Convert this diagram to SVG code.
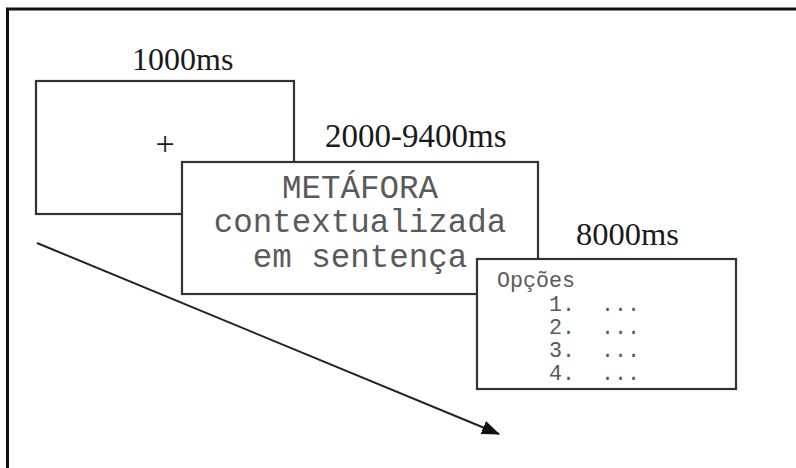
<svg xmlns="http://www.w3.org/2000/svg" width="796" height="468" viewBox="0 0 796 468">
<style>
.box{fill:#fff;stroke:#333;stroke-width:2.2}
.hd{font-family:"Liberation Serif","Times New Roman",serif;fill:#1a1a1a}
.mono{font-family:"Liberation Mono","Courier New",monospace;fill:#5a5a5a}
.conn{stroke:#222;stroke-width:2;fill:none}
</style>
<defs>
<marker id="ah" markerWidth="18" markerHeight="14" refX="17" refY="7" orient="auto" markerUnits="userSpaceOnUse">
<path d="M0,0 L18,7 L0,14 Z" fill="#111"/>
</marker>
</defs>
<rect width="796" height="468" fill="#fff"/>
<path d="M7.5,468 V9 H796" fill="none" stroke="#111" stroke-width="3"/>
<g id="screen1">
<text class="hd" x="132" y="70" font-size="32">1000ms</text>
<rect class="box" x="36" y="81" width="258" height="133"/>
<text class="hd" x="165" y="155" font-size="34" text-anchor="middle">+</text>
</g>
<g id="screen2">
<text class="hd" x="325" y="147" font-size="33">2000-9400ms</text>
<rect class="box" x="182" y="162" width="356" height="132"/>
<text class="mono" x="360" y="198" font-size="32.5" text-anchor="middle">METÁFORA</text>
<text class="mono" x="360" y="232" font-size="32.5" text-anchor="middle">contextualizada</text>
<text class="mono" x="360" y="267" font-size="32.5" text-anchor="middle">em sentença</text>
</g>
<g id="screen3">
<text class="hd" x="576" y="245" font-size="32.5">8000ms</text>
<rect class="box" x="477" y="259" width="259" height="130"/>
<text class="mono" x="497" y="287" font-size="21.7">Opções</text>
<text class="mono" x="549" y="311" font-size="21.7">1.</text>
<text class="mono" x="601" y="311" font-size="21.7">...</text>
<text class="mono" x="549" y="334" font-size="21.7">2.</text>
<text class="mono" x="601" y="334" font-size="21.7">...</text>
<text class="mono" x="549" y="357" font-size="21.7">3.</text>
<text class="mono" x="601" y="357" font-size="21.7">...</text>
<text class="mono" x="549" y="380" font-size="21.7">4.</text>
<text class="mono" x="601" y="380" font-size="21.7">...</text>
</g>
<g id="connectors">
<line class="conn" x1="37" y1="243" x2="499" y2="434" marker-end="url(#ah)"/>
</g>
</svg>
